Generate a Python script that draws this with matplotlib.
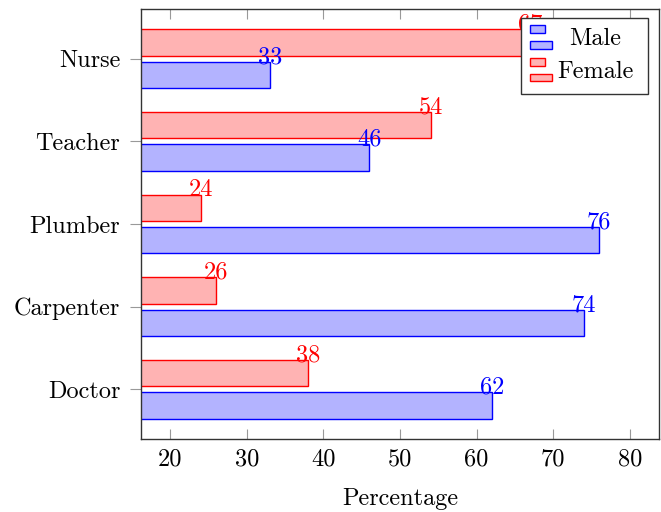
import matplotlib
matplotlib.use("Agg")

import matplotlib.pyplot as plt
from matplotlib.patches import Rectangle
import numpy as np

# bottom to top, like the picture
categories = ["Doctor", "Carpenter", "Plumber", "Teacher", "Nurse"]
male = [62, 74, 76, 46, 33]
female = [38, 26, 24, 54, 67]
xticks = [20, 30, 40, 50, 60, 70, 80]

plt.rcParams["font.family"] = "cmr10"
plt.rcParams["mathtext.fontset"] = "cm"
plt.rcParams["axes.formatter.use_mathtext"] = True

MALE_EDGE = (0, 0, 1)
MALE_FILL = (0.70, 0.70, 1.0)
FEM_EDGE = (1, 0, 0)
FEM_FILL = (1.0, 0.70, 0.70)
FS = 17.5

fig = plt.figure(figsize=(6.61, 5.12), dpi=100)
ax = fig.add_axes([141 / 661, 1 - 439 / 512, (659 - 141) / 661, (439 - 9) / 512])

y = np.arange(len(categories))
off = 0.195
h = 0.32

ax.barh(y - off, male, height=h, color=MALE_FILL, edgecolor=MALE_EDGE, linewidth=1.0)
ax.barh(y + off, female, height=h, color=FEM_FILL, edgecolor=FEM_EDGE, linewidth=1.0)

for yi, v in zip(y, male):
    ax.text(v, yi - off + h / 2 + 0.055, str(v), color=MALE_EDGE, fontsize=FS,
            ha="center", va="center")
for yi, v in zip(y, female):
    ax.text(v, yi + off + h / 2 + 0.055, str(v), color=FEM_EDGE, fontsize=FS,
            ha="center", va="center")

ax.set_xlim(16.2, 83.8)
ax.set_ylim(-0.6, 4.6)
ax.set_yticks(y)
ax.set_yticklabels(categories, fontsize=FS)
ax.set_xticks(xticks)
ax.set_xticklabels([str(t) for t in xticks], fontsize=FS)
ax.set_xlabel("Percentage", fontsize=FS, labelpad=12)

for s in ax.spines.values():
    s.set_color("#333333")
    s.set_linewidth(1.0)

ax.tick_params(axis="x", direction="in", length=7.5, width=0.8, color="#999999",
               top=True, pad=7)
ax.tick_params(axis="y", direction="out", length=8, width=0.8, color="#999999",
               pad=7)

# pgfplots style legend, two bars per entry, text centred
def px(x, yy):
    return x / 661, 1 - yy / 512

tf = fig.transFigure
x0, y0 = px(521, 94)
x1, y1 = px(648, 18)
fig.add_artist(Rectangle((x0, y0), x1 - x0, y1 - y0, transform=tf,
                         facecolor="white", edgecolor="#333333", linewidth=1.0,
                         zorder=10))
entries = [("Male", MALE_FILL, MALE_EDGE, 25, 41, 39),
           ("Female", FEM_FILL, FEM_EDGE, 58, 73.5, 72)]
for label, fc, ec, top1, top2, ty in entries:
    for top, right in [(top1, 545.5), (top2, 551.5)]:
        a, b = px(529.5, top + 7.5)
        c, d = px(right, top)
        fig.add_artist(Rectangle((a, b), c - a, d - b, transform=tf,
                                 facecolor=fc, edgecolor=ec, linewidth=1.0,
                                 zorder=11))
    tx, tyf = px(595, ty)
    fig.text(tx, tyf, label, fontsize=FS, ha="center", va="center", zorder=12)

fig.savefig("out.png", dpi=100)
